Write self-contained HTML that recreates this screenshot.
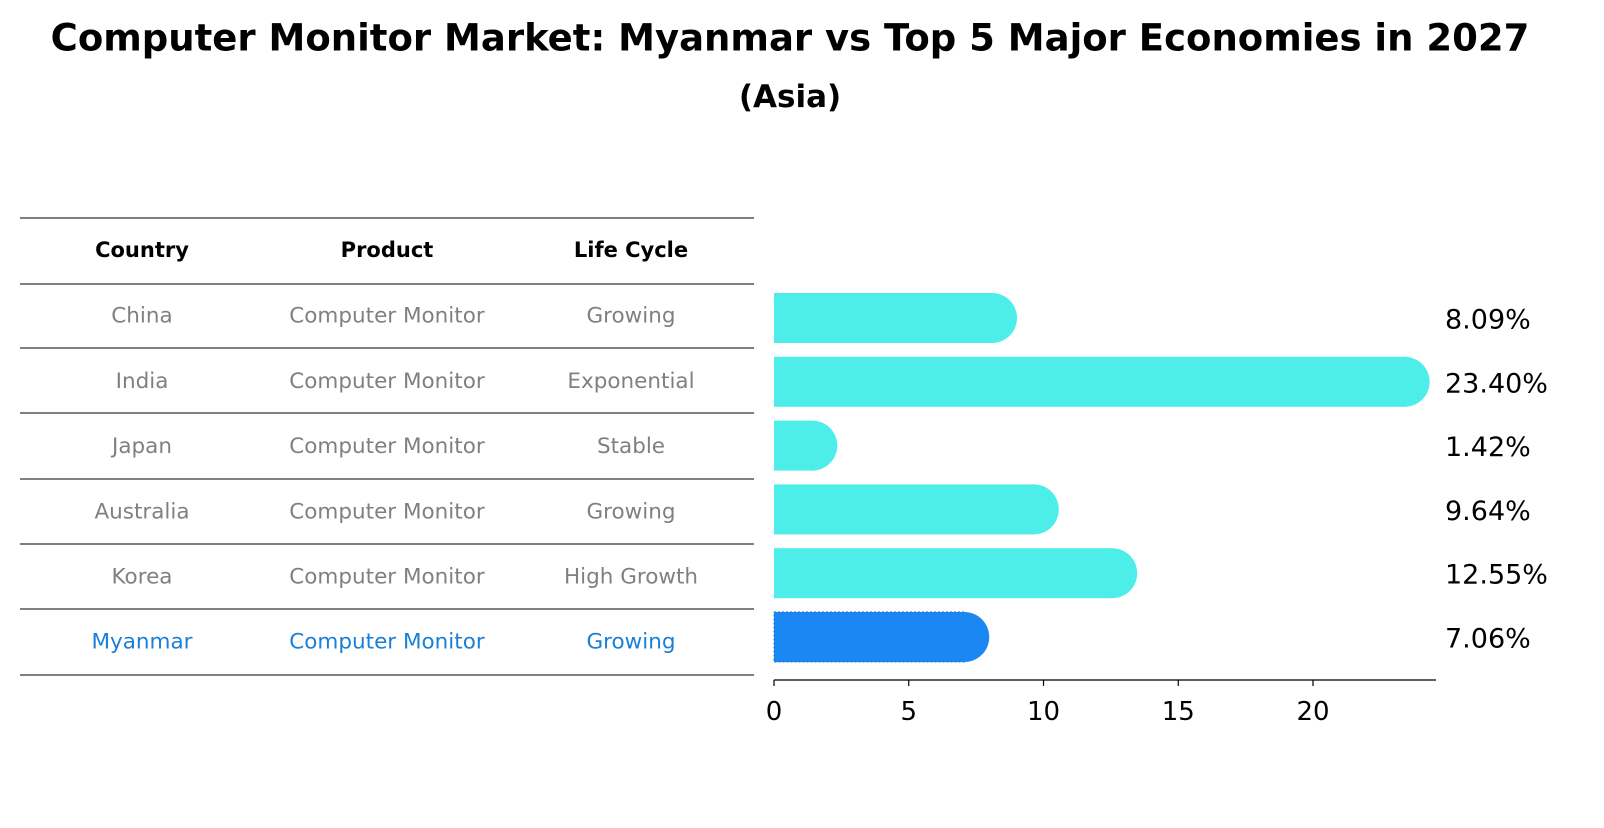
<!DOCTYPE html>
<html><head><meta charset="utf-8"><style>
body{margin:0;background:#fff;font-family:"Liberation Sans","DejaVu Sans",sans-serif}
svg text{font-family:"DejaVu Sans","Liberation Sans",sans-serif}
</style></head><body>
<svg id="chart" width="1604" height="823" xmlns="http://www.w3.org/2000/svg">
<text x="790" y="38" text-anchor="middle" dominant-baseline="central" font-size="37" font-weight="bold">Computer Monitor Market: Myanmar vs Top 5 Major Economies in 2027</text>
<text x="790" y="97" text-anchor="middle" dominant-baseline="central" font-size="31" font-weight="bold">(Asia)</text>
<g id="table"></g>
<g id="bars"></g>
</svg>
<script>
const countries=["China","India","Japan","Australia","Korea","Myanmar"];
const products=["Computer Monitor","Computer Monitor","Computer Monitor","Computer Monitor","Computer Monitor","Computer Monitor"];
const lifeCycles=["Growing","Exponential","Stable","Growing","High Growth","Growing"];
const values=[8.09,23.40,1.42,9.64,12.55,7.06];
const ticks=[0,5,10,15,20];
const NS="http://www.w3.org/2000/svg";
function mk(tag,attrs,parent,text){const e=document.createElementNS(NS,tag);for(const k in attrs)e.setAttribute(k,attrs[k]);if(text!==undefined)e.textContent=text;parent.appendChild(e);return e;}
const x0=774,pxPer=26.95;
const xs=v=>x0+v*pxPer;
const rowY=i=>318+i*63.8;
const tbl=document.getElementById('table');
const lineYs=[218,284,348,413,479,544,609,675];
lineYs.forEach(y=>{const l=mk('line',{x1:20,x2:754,y1:y,y2:y,stroke:'#000','stroke-width':1},tbl);

});
const colX=[142,387,631];
["Country","Product","Life Cycle"].forEach((h,j)=>{const t=mk('text',{x:colX[j],y:250,'text-anchor':'middle','dominant-baseline':'central','font-size':21,'font-weight':'bold'},tbl,h);

});
countries.forEach((c,i)=>{const col=c==="Myanmar"?'#1a7fd6':'#808080';
[c,products[i],lifeCycles[i]].forEach((v,j)=>{const t=mk('text',{x:colX[j],y:251+65.2*(i+1),'text-anchor':'middle','dominant-baseline':'central','font-size':21.5,fill:col},tbl,v);

});});
const g=document.getElementById('bars');
values.forEach((v,i)=>{const cy=rowY(i),my=countries[i]==="Myanmar",col=my?'#1a87f3':'#4deee9';
const xe=xs(v);
const r=mk('rect',{x:x0,y:cy-25,width:Math.max(0,xe-x0),height:50,fill:col},g);
if(my){r.setAttribute('stroke','#1a6fd0');r.setAttribute('stroke-dasharray','2,2');}


const c=mk('circle',{cx:xe,cy:cy,r:25,fill:col},g);


const t=mk('text',{x:1445,y:cy+2,'dominant-baseline':'central','font-size':27},g,v.toFixed(2)+'%');

});
const ax=mk('line',{x1:x0,x2:1436,y1:680,y2:680,stroke:'#000','stroke-width':1.2},g);


ticks.forEach(tk=>{const x=xs(tk);
const l=mk('line',{x1:x,x2:x,y1:680,y2:686,stroke:'#000','stroke-width':1.2},g);


const t=mk('text',{x:x,y:712,'text-anchor':'middle','dominant-baseline':'central','font-size':26},g,String(tk));

});
</script>
</body></html>
